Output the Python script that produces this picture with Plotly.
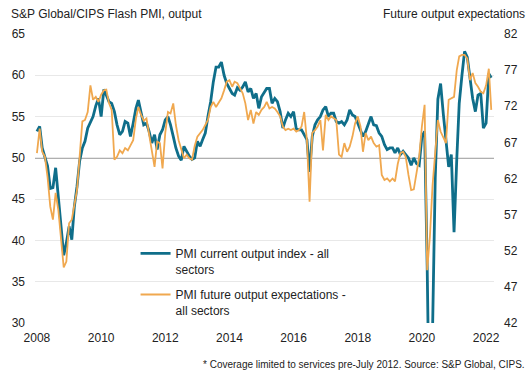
import pandas as pd
import plotly.graph_objects as go

start_month = "2008-01-01"

# PMI current output index - all sectors (left axis), monthly from Jan 2008
current_output = [
    53.2, 53.8, 51.2, 50.2, 49.0, 46.3, 46.4, 48.8, 45.4, 42.2, 38.2, 39.7,   # 2008
    41.7, 40.1, 44.0, 46.5, 49.6, 51.2, 52.0, 53.6, 54.4, 55.0, 56.3, 57.2,   # 2009
    55.0, 58.3, 57.6, 56.8, 56.6, 55.6, 54.0, 52.8, 53.2, 54.4, 54.2, 52.6,   # 2010
    54.2, 56.0, 57.0, 55.4, 54.0, 54.2, 53.2, 51.8, 52.8, 51.0, 52.8, 53.4,   # 2011
    54.6, 55.0, 54.0, 52.6, 51.2, 50.2, 49.7, 51.4, 50.8, 50.2, 49.8, 50.0,   # 2012
    52.0, 51.4, 52.2, 53.0, 55.0, 56.8, 59.2, 61.0, 61.0, 61.6, 60.0, 59.0,   # 2013
    58.4, 57.8, 57.6, 58.5, 58.2, 58.6, 59.2, 58.0, 58.4, 57.2, 57.8, 56.0,   # 2014
    57.4, 58.0, 58.4, 58.4, 56.6, 57.2, 56.8, 55.6, 53.6, 54.6, 55.4, 55.0,   # 2015
    55.6, 53.5, 53.4, 53.4, 52.8, 52.2, 48.3, 52.6, 54.0, 54.6, 55.0, 55.8,   # 2016
    56.2, 55.0, 55.4, 55.4, 54.4, 54.2, 54.4, 54.0, 54.6, 55.8, 55.2, 55.0,   # 2017
    54.2, 53.4, 52.6, 53.2, 54.2, 55.0, 54.0, 53.9, 53.0, 52.6, 51.6, 51.0,   # 2018
    51.2, 51.2, 50.6, 51.2, 50.4, 50.8, 50.4, 50.0, 49.1, 50.0, 49.3, 49.1,   # 2019
    52.6, 53.2, 37.0, 13.8, 28.9, 47.6, 57.1, 59.0, 55.3, 52.5, 48.9, 50.4,   # 2020
    41.0, 49.8, 56.6, 60.0, 62.9, 62.2, 59.5, 57.2, 55.6, 57.6, 57.8, 53.6,   # 2021
    54.2, 60.2, 59.7,                                                         # 2022
]

# PMI future output expectations - all sectors (right axis)
future_expectations = [
    65.5, 68.9, 65.7, 65.0, 62.2, 58.1, 56.3, 60.0, 57.6, 53.5, 49.7, 50.5,   # 2008
    55.8, 56.3, 58.1, 60.4, 65.0, 69.9, 70.1, 71.2, 74.9, 72.9, 73.3, 72.6,   # 2009
    73.6, 74.2, 74.3, 72.4, 71.5, 64.6, 65.0, 65.9, 65.5, 66.2, 65.9, 66.6,   # 2010
    67.3, 70.3, 71.9, 70.8, 70.0, 70.3, 68.0, 66.0, 63.6, 67.1, 66.9, 63.4,   # 2011
    68.3, 71.2, 71.0, 72.4, 69.4, 67.3, 65.9, 64.8, 65.3, 64.8, 64.6, 66.5,   # 2012
    67.8, 68.3, 68.7, 69.4, 70.1, 71.9, 72.6, 71.9, 72.6, 73.1, 74.2, 75.4,   # 2013
    75.6, 74.7, 75.4, 75.2, 74.5, 73.8, 72.4, 70.1, 71.5, 69.6, 71.2, 70.8,   # 2014
    71.5, 71.9, 72.6, 71.7, 71.9, 71.7, 71.2, 70.6, 69.2, 68.7, 68.9, 68.7,   # 2015
    68.9, 68.5, 68.7, 69.2, 71.2, 67.3, 58.8, 68.3, 68.7, 69.2, 70.1, 65.9,   # 2016
    70.8, 70.1, 70.6, 70.3, 70.1, 65.3, 65.0, 66.9, 65.7, 66.4, 67.8, 69.6,   # 2017
    70.6, 69.2, 65.7, 68.3, 67.3, 67.8, 66.9, 66.4, 66.6, 62.5, 61.8, 62.0,   # 2018
    61.6, 62.0, 61.6, 64.0, 65.5, 65.7, 65.0, 62.5, 60.4, 60.5, 63.0, 65.0,   # 2019
    69.2, 72.2, 49.3, 53.9, 61.0, 65.5, 70.1, 68.5, 67.6, 66.9, 72.9, 73.1,   # 2020
    73.3, 77.0, 78.9, 79.1, 79.1, 78.6, 75.6, 76.6, 75.2, 74.7, 74.0, 73.8,   # 2021
    74.9, 77.2, 71.5,                                                         # 2022
]

months = pd.date_range(start_month, periods=len(current_output), freq="MS")

left_ticks = [30, 35, 40, 45, 50, 55, 60, 65]
right_ticks = [42, 47, 52, 57, 62, 67, 72, 77, 82]
year_ticks = ["2008", "2010", "2012", "2014", "2016", "2018", "2020", "2022"]

TEAL = "#0f6e8a"
ORANGE = "#f0a84f"
FONT = "Liberation Sans, Arial, sans-serif"
TXT = "#222222"

fig = go.Figure()
fig.add_trace(go.Scatter(
    x=months, y=future_expectations, yaxis="y2", mode="lines",
    name="PMI future output expectations -<br>all sectors",
    line=dict(color=ORANGE, width=1.8), legendrank=2, legendgroup="b",
    hoverinfo="skip",
))
fig.add_trace(go.Scatter(
    x=months, y=current_output, mode="lines",
    name="PMI current output index - all<br>sectors",
    line=dict(color=TEAL, width=2.8), legendrank=1, legendgroup="a",
    hoverinfo="skip",
))

fig.add_shape(type="line", xref="paper", x0=0, x1=1, yref="y", y0=50, y1=50,
              line=dict(color="#222222", width=1), layer="between")

L, R, T, B = 33, 38, 34, 58
PW, PH = 532 - L - R, 381 - T - B

def px_x(px):
    return (px - L) / PW

def px_y(py):
    return 1 - (py - T) / PH

fig.update_layout(
    width=532, height=381,
    margin=dict(l=L, r=R, t=T, b=B, pad=0),
    paper_bgcolor="white", plot_bgcolor="white",
    font=dict(family=FONT, size=12, color=TXT),
    showlegend=True,
    hovermode=False,
    legend=dict(
        x=px_x(134), y=px_y(239), xanchor="left", yanchor="top",
        bgcolor="rgba(0,0,0,0)", borderwidth=0,
        font=dict(family=FONT, size=12, color=TXT),
        valign="top", traceorder="grouped", tracegroupgap=7,
        itemwidth=30,
    ),
    xaxis=dict(
        type="date", range=["2007-12-10", "2022-04-01"],
        tickmode="array",
        tickvals=[pd.Timestamp(y + "-01-01") for y in year_ticks],
        ticktext=year_ticks,
        showgrid=False, zeroline=False, showline=False, ticks="",
        ticklabelstandoff=6,
        tickfont=dict(size=12, color=TXT),
    ),
    yaxis=dict(
        range=[30, 65], tickmode="array", tickvals=left_ticks,
        showgrid=True, gridcolor="#e8e8e8", gridwidth=1,
        zeroline=False, showline=False, ticks="",
        ticklabelstandoff=9,
        tickfont=dict(size=12, color=TXT),
    ),
    yaxis2=dict(
        range=[42, 82], tickmode="array", tickvals=right_ticks,
        overlaying="y", side="right", showgrid=False,
        zeroline=False, showline=False, ticks="",
        ticklabelstandoff=9,
        tickfont=dict(size=12, color=TXT),
    ),
    annotations=[
        dict(text="S&P Global/CIPS Flash PMI, output", xref="paper", yref="paper",
             x=px_x(7), y=px_y(14), xanchor="left", yanchor="middle",
             showarrow=False, font=dict(size=12, color=TXT)),
        dict(text="Future output expectations", xref="paper", yref="paper",
             x=px_x(527), y=px_y(14), xanchor="right", yanchor="middle",
             showarrow=False, font=dict(size=12, color=TXT)),
        dict(text="* Coverage limited to services pre-July 2012. Source: S&P Global, CIPS.",
             xref="paper", yref="paper",
             x=px_x(527), y=px_y(364), xanchor="right", yanchor="middle",
             showarrow=False, font=dict(size=10, color=TXT)),
    ],
)

fig.write_html("out.html", config={"displayModeBar": False},
               post_script="document.body.style.margin='0';")
